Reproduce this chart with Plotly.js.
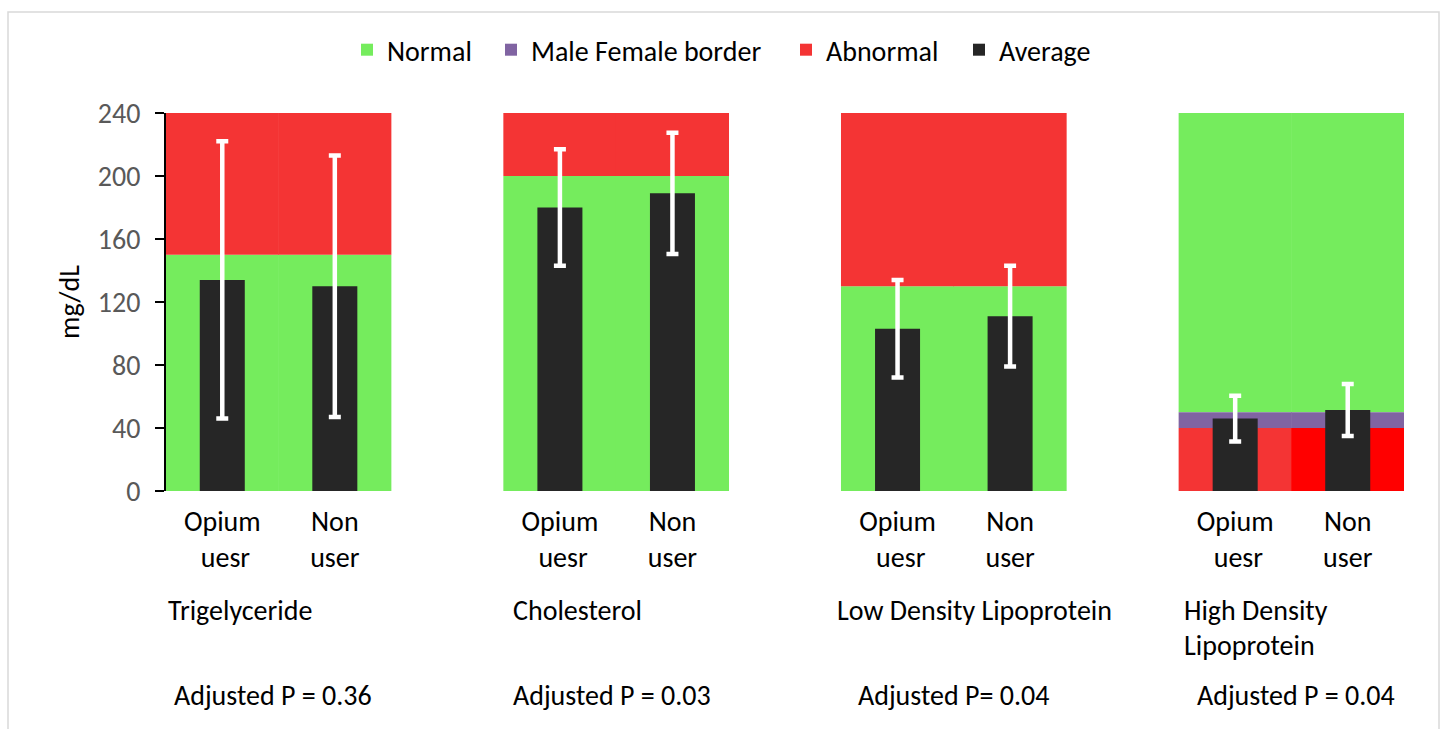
<!DOCTYPE html>
<html>
<head>
<meta charset="utf-8">
<script src="https://cdn.plot.ly/plotly-3.0.1.min.js"></script>
<style>html,body{margin:0;padding:0;background:#fff;}#chart{width:1447px;height:729px;}</style>
</head>
<body>
<div id="chart"></div>
<script>
// ---- data ----
const groups = ["Trigelyceride", "Cholesterol", "Low Density Lipoprotein", "High Density<br>Lipoprotein"];
const pValues = ["Adjusted P = 0.36", "Adjusted P = 0.03", "Adjusted P= 0.04", "Adjusted P = 0.04"];
const subgroups = ["Opium<br> uesr", "Non<br>user"];
// per bar (group-major order)
const average = [134, 130, 180, 189, 103, 111, 46, 51.5];
const sdev    = [88, 83, 37, 38.5, 31, 32, 14.5, 16.5];
// reference zones (mg/dL)
const normalLow    = [0, 0, 0, 0, 0, 0, 50, 50];
const normalHigh   = [150, 150, 200, 200, 130, 130, 240, 240];
const abnormalLow  = [150, 150, 200, 200, 130, 130, 0, 0];
const abnormalHigh = [240, 240, 240, 240, 240, 240, 40, 40];
const borderLow    = [null, null, null, null, null, null, 40, 40];
const borderHigh   = [null, null, null, null, null, null, 50, 50];
const yTicks = [0, 40, 80, 120, 160, 200, 240];

// ---- positions: each group gets 2 slots plus 1 empty slot ----
const xs = [], tickText = [];
groups.forEach((g, gi) => subgroups.forEach((s, si) => { xs.push(gi * 3 + si); tickText.push(s); }));

const FONT = "Carlito, Lato, 'Open Sans', sans-serif";
const FS = 28;
const diff = (hi, lo) => hi.map((h, i) => (h == null ? null : h - lo[i]));

const traces = [
  {type: 'bar', name: 'Normal', legend: 'legend', x: xs, y: diff(normalHigh, normalLow), base: normalLow,
   width: 1.005, marker: {color: '#75ec5d', line: {width: 0}}, hoverinfo: 'skip'},
  {type: 'bar', name: 'Male Female border', legend: 'legend2', x: xs, y: diff(borderHigh, borderLow), base: borderLow,
   width: 1.005, marker: {color: '#8064a2', line: {width: 0}}, hoverinfo: 'skip'},
  {type: 'bar', name: 'Abnormal', legend: 'legend3', x: xs, y: diff(abnormalHigh, abnormalLow), base: abnormalLow,
   width: 1.005, marker: {color: xs.map((v, i) => i === 7 ? '#ff0000' : '#f43434'), line: {width: 0}}, hoverinfo: 'skip'},
  {type: 'bar', name: 'Average', legend: 'legend4', x: xs, y: average, width: 0.4,
   marker: {color: '#262626', line: {width: 0}},
   error_y: {type: 'data', array: sdev, visible: true, color: '#ffffff', thickness: 4.5, width: 6}}
];

const annotations = [];
groups.forEach((g, gi) => {
  const lines = g.split('<br>');
  lines.forEach((ln, li) => {
    annotations.push({x: gi * 3 - 0.5, xref: 'x', xanchor: 'left', xshift: [0, 7, -6, 3][gi],
      y: -0.315 - li * 0.0926, yref: 'paper', yanchor: 'middle', text: ln, showarrow: false,
      font: {family: FONT, size: FS, color: '#000'}});
  });
  annotations.push({x: gi * 3 - 0.5, xref: 'x', xanchor: 'left', xshift: [6, 7, 15, 16][gi],
    y: -0.54, yref: 'paper', yanchor: 'middle', text: pValues[gi], showarrow: false,
    font: {family: FONT, size: FS, color: '#000'}});
});

const legTextStart = [387, 531, 826, 999];
const mkLegend = (px) => ({orientation: 'h', x: (px - 40) / 1447, xref: 'container', xanchor: 'left',
  y: 1 - 50 / 729, yref: 'container', yanchor: 'middle', bgcolor: 'rgba(0,0,0,0)',
  font: {family: FONT, size: FS, color: '#000'}});

const layout = {
  width: 1447, height: 729,
  margin: {l: 166, r: 43, t: 113, b: 238},
  paper_bgcolor: '#fff', plot_bgcolor: '#fff',
  barmode: 'overlay',
  showlegend: true,
  legend: mkLegend(legTextStart[0]),
  legend2: mkLegend(legTextStart[1]),
  legend3: mkLegend(legTextStart[2]),
  legend4: mkLegend(legTextStart[3]),
  font: {family: FONT},
  xaxis: {range: [-0.5, 10.5], tickvals: xs, ticktext: tickText, showline: false, ticks: '', showgrid: false, zeroline: false,
    ticklabelstandoff: 11, tickfont: {family: FONT, size: FS, color: '#000'}, fixedrange: true},
  yaxis: {range: [0, 240], tickvals: yTicks, showline: true, linecolor: '#000', linewidth: 2, ticks: 'outside', ticklen: 9,
    tickcolor: '#000', tickwidth: 2, showgrid: false, zeroline: false, ticklabelstandoff: 9,
    tickfont: {family: FONT, size: FS, color: '#595959'},
    title: {text: 'mg/dL', font: {family: FONT, size: FS, color: '#000'}, standoff: 10}, fixedrange: true},
  annotations: annotations,
  shapes: [{type: 'rect', xref: 'paper', yref: 'paper', x0: (8 - 166) / 1238, x1: (1439 - 166) / 1238,
    y0: (491 - 740) / 378, y1: (491 - 12) / 378, line: {color: '#d9d9d9', width: 1.5}, layer: 'below'}]
};

Plotly.newPlot('chart', traces, layout, {displayModeBar: false, staticPlot: true});
</script>
</body>
</html>
